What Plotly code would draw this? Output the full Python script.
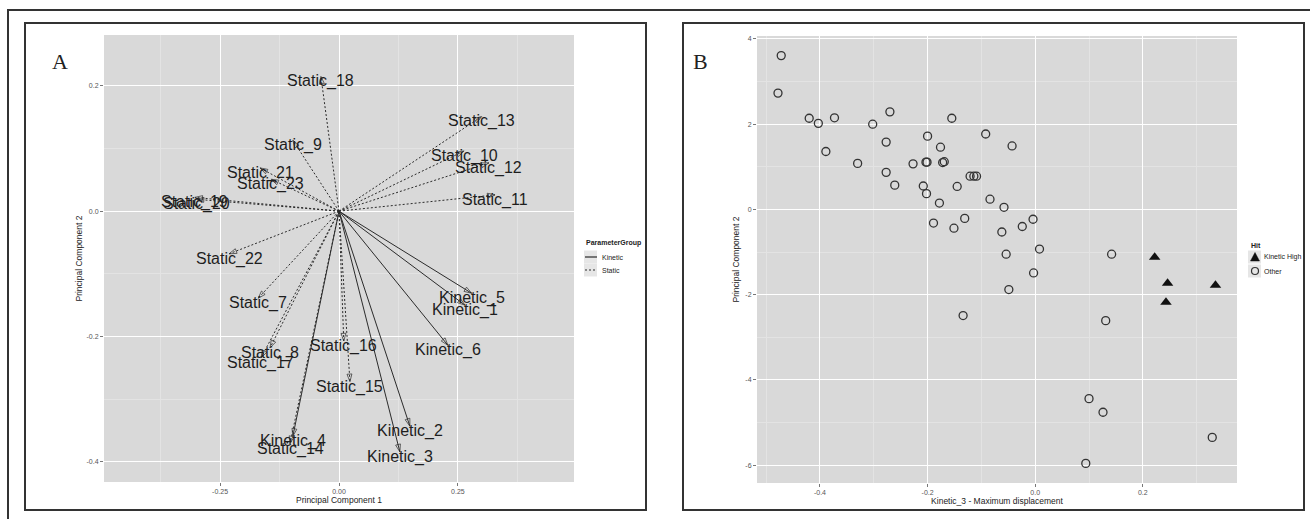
import plotly.graph_objects as go

# ---------------- data ----------------
kinetic_names = ["Kinetic_1", "Kinetic_2", "Kinetic_3", "Kinetic_4", "Kinetic_5", "Kinetic_6"]
kinetic_pc1 = [0.265, 0.149, 0.128, -0.097, 0.279, 0.229]
kinetic_pc2 = [-0.150, -0.343, -0.384, -0.359, -0.131, -0.214]

static_names = ["Static_7", "Static_8", "Static_9", "Static_10", "Static_11", "Static_12",
                "Static_13", "Static_14", "Static_15", "Static_16", "Static_17", "Static_18",
                "Static_19", "Static_20", "Static_21", "Static_22", "Static_23"]
static_pc1 = [-0.170, -0.145, -0.097, 0.263, 0.328, 0.315, 0.300, -0.103, 0.023, 0.010,
              -0.164, -0.038, -0.303, -0.300, -0.166, -0.231, -0.143]
static_pc2 = [-0.139, -0.218, 0.113, 0.096, 0.026, 0.077, 0.151, -0.371, -0.272, -0.207,
              -0.234, 0.215, 0.022, 0.019, 0.069, -0.068, 0.051]

other_x = [-0.472, -0.478, -0.420, -0.403, -0.373, -0.389, -0.270, -0.302, -0.330, -0.277,
           -0.277, -0.261, -0.227, -0.203, -0.201, -0.200, -0.208, -0.202, -0.155, -0.176,
           -0.172, -0.169, -0.145, -0.178, -0.189, -0.151, -0.131, -0.121, -0.114, -0.109,
           -0.092, -0.043, -0.084, -0.058, -0.004, -0.024, -0.062, 0.008, -0.054, -0.003,
           -0.049, -0.134, 0.142, 0.131, 0.100, 0.126, 0.329, 0.094]
other_y = [3.61, 2.73, 2.14, 2.02, 2.15, 1.36, 2.29, 2.00, 1.08, 1.58,
           0.87, 0.57, 1.07, 1.11, 1.11, 1.72, 0.55, 0.37, 2.14, 1.46,
           1.10, 1.12, 0.54, 0.15, -0.32, -0.44, -0.21, 0.78, 0.78, 0.78,
           1.77, 1.49, 0.24, 0.05, -0.23, -0.40, -0.53, -0.93, -1.05, -1.49,
           -1.88, -2.49, -1.05, -2.61, -4.44, -4.76, -5.35, -5.96]
high_x = [0.222, 0.246, 0.335, 0.243]
high_y = [-1.12, -1.73, -1.78, -2.18]

a_xticks = [-0.25, 0.0, 0.25]
a_xticktext = ["-0.25", "0.00", "0.25"]
a_yticks = [0.2, 0.0, -0.2, -0.4]
a_yticktext = ["0.2", "0.0", "-0.2", "-0.4"]
b_xticks = [-0.4, -0.2, 0.0, 0.2]
b_xticktext = ["-0.4", "-0.2", "0.0", "0.2"]
b_yticks = [4, 2, 0, -2, -4, -6]
b_yticktext = ["4", "2", "0", "-2", "-4", "-6"]

# ---------------- figure ----------------
W, H = 1310, 519
def fx(p):
    return p / W
def fy(p):
    return 1 - p / H

fig = go.Figure()
DARK = "#2b2b2b"
STATIC_DASH = "2px,2px"
FONT = "Liberation Sans, Arial"


def add_group(names, xs, ys, dash, label):
    lx, ly, sizes = [], [], []
    for x, y in zip(xs, ys):
        lx += [0, x, None]
        ly += [0, y, None]
        sizes += [0, 8, 0]
    fig.add_trace(go.Scatter(x=lx, y=ly, mode="lines", name=label, showlegend=False,
                             line=dict(color=DARK, width=1, dash=dash),
                             xaxis="x", yaxis="y", hoverinfo="skip"))
    fig.add_trace(go.Scatter(x=lx, y=ly, mode="markers", showlegend=False,
                             marker=dict(symbol="arrow-open", size=sizes, angleref="previous",
                                         color=DARK, line=dict(width=1, color=DARK)),
                             xaxis="x", yaxis="y", hoverinfo="skip"))
    for n, x, y in zip(names, xs, ys):
        fig.add_annotation(x=x, y=y, xref="x", yref="y", text=n, showarrow=False,
                           yshift=-5, font=dict(size=16, color="#1e1e1e", family=FONT))


add_group(kinetic_names, kinetic_pc1, kinetic_pc2, "solid", "Kinetic")
add_group(static_names, static_pc1, static_pc2, STATIC_DASH, "Static")

fig.add_trace(go.Scatter(x=high_x, y=high_y, mode="markers", name="Kinetic High",
                         showlegend=False, xaxis="x2", yaxis="y2",
                         marker=dict(symbol="triangle-up", size=10, color="#111111")))
fig.add_trace(go.Scatter(x=other_x, y=other_y, mode="markers", name="Other",
                         showlegend=False, xaxis="x2", yaxis="y2",
                         marker=dict(symbol="circle-open", size=8, color="#333333",
                                     line=dict(width=1.3, color="#333333"))))

axis_common = dict(showgrid=True, gridcolor="white", gridwidth=1, zeroline=False,
                   ticks="outside", ticklen=3, tickcolor="#777", tickwidth=1,
                   tickfont=dict(size=7, color="#555", family=FONT),
                   showline=False)
title_font = dict(size=8.5, color="#222", family=FONT)
minor_grid = dict(showgrid=True, gridcolor="#e3e3e3", gridwidth=0.7, ticks="")

fig.update_layout(
    width=W, height=H, margin=dict(l=0, r=0, t=0, b=0),
    paper_bgcolor="white", plot_bgcolor="#d9d9d9",
    showlegend=False,
    xaxis=dict(domain=[fx(104), fx(574)], range=[-0.494, 0.494], anchor="y",
               tickvals=a_xticks, ticktext=a_xticktext,
               minor=dict(dtick=0.125, tick0=0, **minor_grid),
               title=dict(text="Principal Component 1", font=title_font, standoff=2), **axis_common),
    yaxis=dict(domain=[fy(482), fy(35)], range=[-0.432, 0.281], anchor="x",
               tickvals=a_yticks, ticktext=a_yticktext,
               minor=dict(dtick=0.1, tick0=0, **minor_grid),
               title=dict(text="Principal Component 2", font=title_font, standoff=2), **axis_common),
    xaxis2=dict(domain=[fx(757), fx(1237)], range=[-0.517, 0.375], anchor="y2",
                tickvals=b_xticks, ticktext=b_xticktext,
                minor=dict(dtick=0.1, tick0=0, **minor_grid),
                title=dict(text="Kinetic_3 - Maximum displacement", font=title_font, standoff=2), **axis_common),
    yaxis2=dict(domain=[fy(483), fy(36)], range=[-6.42, 4.07], anchor="x2",
                tickvals=b_yticks, ticktext=b_yticktext,
                minor=dict(dtick=1, tick0=0, **minor_grid),
                title=dict(text="Principal Component 2", font=title_font, standoff=4), **axis_common),
)

# panel letters
for letter, px in (("A", 50), ("B", 700)):
    fig.add_annotation(x=fx(px), y=fy(47), xref="paper", yref="paper", text=letter, showarrow=False,
                       font=dict(size=22, color="#222", family="Liberation Serif, DejaVu Serif"))

# frames
frame = dict(color="#333333", width=2)
fig.add_shape(type="rect", xref="paper", yref="paper", x0=fx(8), x1=fx(1320), y0=fy(530), y1=fy(10), line=frame)
fig.add_shape(type="rect", xref="paper", yref="paper", x0=fx(25), x1=fx(646), y0=fy(510), y1=fy(23), line=frame)
fig.add_shape(type="rect", xref="paper", yref="paper", x0=fx(683), x1=fx(1304), y0=fy(510), y1=fy(23), line=frame)

# ---------------- legends (ggplot-style, drawn in page space) ----------------
def legend_text(px, py, text, bold=False):
    fig.add_annotation(x=fx(px), y=fy(py), xref="paper", yref="paper", xanchor="left", yanchor="middle",
                       text=f"<b>{text}</b>" if bold else text, showarrow=False,
                       font=dict(size=7, color="#222", family=FONT))

def key_bg(px, py):
    fig.add_shape(type="rect", xref="paper", yref="paper", x0=fx(px - 7), x1=fx(px + 6),
                  y0=fy(py + 6.5), y1=fy(py - 6.5), line=dict(width=0), fillcolor="#e6e6e6")

# Panel A legend
legend_text(584, 243, "ParameterGroup", bold=True)
key_bg(591, 257)
key_bg(591, 270)
fig.add_shape(type="line", xref="paper", yref="paper", x0=fx(585), x1=fx(597), y0=fy(257), y1=fy(257),
              line=dict(color=DARK, width=1.2))
fig.add_shape(type="line", xref="paper", yref="paper", x0=fx(585), x1=fx(597), y0=fy(270), y1=fy(270),
              line=dict(color=DARK, width=1.2, dash=STATIC_DASH))
legend_text(600, 257, "Kinetic")
legend_text(600, 270, "Static")

# Panel B legend
legend_text(1249, 245, "Hit", bold=True)
key_bg(1255, 257)
key_bg(1255, 271)
fig.add_shape(type="path", xref="paper", yref="paper",
              path=f"M {fx(1250.5)},{fy(261)} L {fx(1259.5)},{fy(261)} L {fx(1255)},{fy(252.5)} Z",
              fillcolor="#111111", line=dict(color="#111111", width=0.5))
fig.add_shape(type="circle", xref="paper", yref="paper", x0=fx(1251.5), x1=fx(1258.5),
              y0=fy(274.5), y1=fy(267.5), line=dict(color="#333333", width=1.2))
legend_text(1262, 257, "Kinetic High")
legend_text(1262, 271, "Other")

fig.write_html("out.html", config={"displayModeBar": False},
               post_script="document.body.style.margin='0px';")
